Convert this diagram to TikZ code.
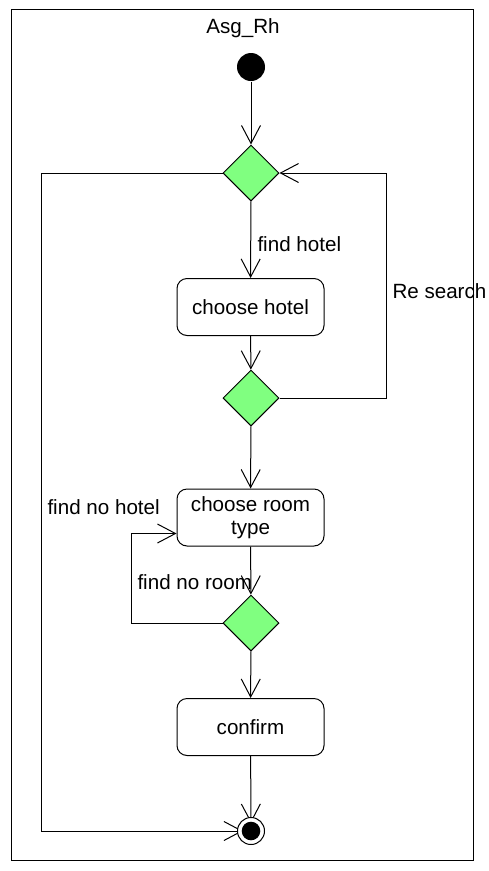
\documentclass[tikz,border=0pt]{standalone}
\usepackage{fontspec}
\setmainfont{Liberation Sans}
\usetikzlibrary{arrows.meta,shapes.geometric}
\definecolor{choicegreen}{HTML}{80FF80}

\begin{document}
\begin{tikzpicture}[x=1pt, y=-1pt, line width=1pt, font=\fontsize{20.6}{23}\selectfont,
  >={Straight Barb[length=18pt,width=19pt]},
  act/.style={draw, rounded corners=10pt, minimum width=147pt, minimum height=57pt, align=center, inner sep=0pt},
  choice/.style={draw, diamond, fill=choicegreen, minimum width=56pt, minimum height=56pt, inner sep=0pt},
  lbl/.style={inner sep=0pt, anchor=west}]
\useasboundingbox (0,0) rectangle (489,871);

% Frame and title
\draw (11,9) rectangle (473,860);
\node at (243,28) (title) {Asg\_Rh};

% Start and end
\node[circle, fill=black, minimum size=28pt, inner sep=0pt] at (251,67) (start) {};
\node[circle, minimum size=27pt, inner sep=0pt] at (251,831) (stop) {};

% Decisions
\node[choice] at (251,173) (d1) {};
\node[choice] at (251,398) (d2) {};
\node[choice] at (251,623) (d3) {};

% Activities
\node[act] at (250.5,307) (hotel) {choose hotel};
\node[act] at (250.5,517.5) (room) {choose room\\type};
\node[act] at (250.5,727) (confirm) {confirm};

% Main flow
\draw[->] (start) -- (d1);
\draw[->] (d1) -- (hotel);
\draw[->] (hotel) -- (d2);
\draw[->] (d2) -- (room);
\draw[->] (room) -- (d3);
\draw[->] (d3) -- (confirm);
\draw[->, shorten >=8pt] (confirm) -- (stop.center);

% Loops
\coordinate (rsearch) at (386,398);
\draw[->] (d2.east) -- (rsearch) |- (d1.east);
\coordinate (rroom) at (131,623);
\draw[->] (d3.west) -- (rroom) |- ([yshift=-16pt]room.west);
\coordinate (rhotel) at (41,173);
\draw[->, shorten >=8pt] (d1.west) -- (rhotel) |- (stop.center);

% End node drawn over the arrow tips
\draw[fill=white] (stop) circle (13.5pt);
\fill (stop) circle (9.3pt);

% Guards
\node[lbl] at (257,244) (gfindhotel) {find hotel};
\node[lbl] at (392,291) (gresearch) {Re search};
\node[lbl] at (47,507) (gnohotel) {find no hotel};
\node[lbl] at (137,582) (gnoroom) {find no room};
\end{tikzpicture}
\end{document}
